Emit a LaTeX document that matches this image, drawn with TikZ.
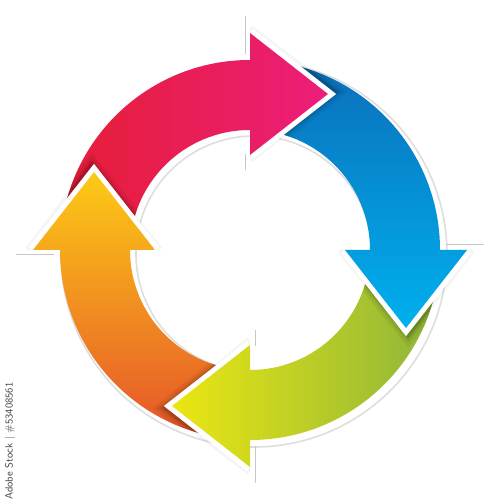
\documentclass[tikz,border=0pt]{standalone}
\usetikzlibrary{calc}
\definecolor{cRed}{HTML}{E61E35}
\definecolor{cPink}{HTML}{EC1E7A}
\definecolor{cBlueD}{HTML}{0A6FBA}
\definecolor{cBlueL}{HTML}{00B0EE}
\definecolor{cGreen}{HTML}{8CB53A}
\definecolor{cYellow}{HTML}{EBE612}
\definecolor{cOrangeT}{HTML}{FDCB16}
\definecolor{cOrangeB}{HTML}{E5522A}
\tikzset{
  paperline/.style={draw=black!13, line width=1.6},
  cutline/.style={draw=black!22, line width=1},
  shadowA/.style={draw=black, opacity=0.06, line width=24, line join=miter},
  shadowB/.style={draw=black, opacity=0.08, line width=18, line join=miter},
  shadowC/.style={draw=black, opacity=0.12, line width=13, line join=miter},
  whiteedge/.style={draw=white, line width=10, line join=miter},
  faintshadow/.style={draw=black, opacity=0.04, line width=14, line join=miter},
}
\begin{document}
\begin{tikzpicture}[x=1pt,y=1pt]
\useasboundingbox (-250,-250) rectangle (250,250);
\fill[white] (-250,-250) rectangle (250,250);

% paper ring shadow
\draw[paperline] (4,-4) circle (193);
\draw[paperline] (4,-4) circle (118);
% cut lines
\draw[cutline] (-5,196) -- (-5,234);
\draw[cutline] (-5,80) -- (-5,96);
\draw[cutline] (5,-196) -- (5,-233);
\draw[cutline] (5,-80) -- (5,-96);
\draw[cutline] (-196,-5) -- (-234,-5);
\draw[cutline] (196,5) -- (234,5);

% ---------- orange (left, pointing up) ----------
\shade[bottom color=cOrangeB, top color=cOrangeT]
  (-90:190) arc[start angle=-90, end angle=-180, radius=190]
  -- (-217,0) -- (-156,78) -- (-95,0) -- (-120,0)
  arc[start angle=180, end angle=270, radius=120] -- cycle;

% ---------- green (bottom, pointing left) ----------
\begin{scope}
  \clip (0,-250) rectangle (-250,250);
  \draw[faintshadow] (2,-219) -- (-78,-158) -- (2,-93);
  \begin{scope}[even odd rule]
    \clip (0,0) circle (190) (0,0) circle (120);
    \draw[shadowA] (2,-219) -- (-78,-158) -- (2,-93);
    \draw[shadowB] (2,-219) -- (-78,-158) -- (2,-93);
    \draw[shadowC] (2,-219) -- (-78,-158) -- (2,-93);
  \end{scope}
\end{scope}
\draw[whiteedge] (0,-217) -- (-78,-156) -- (0,-95);
\shade[left color=cYellow, right color=cGreen]
  (0:190) arc[start angle=0, end angle=-90, radius=190]
  -- (0,-217) -- (-78,-156) -- (0,-95) -- (0,-120)
  arc[start angle=-90, end angle=0, radius=120] -- cycle;

% ---------- blue (right, pointing down) ----------
\begin{scope}
  \clip (-250,0) rectangle (250,-250);
  \draw[faintshadow] (219,2) -- (158,-78) -- (93,2);
  \begin{scope}[even odd rule]
    \clip (0,0) circle (190) (0,0) circle (120);
    \draw[shadowA] (219,2) -- (158,-78) -- (93,2);
    \draw[shadowB] (219,2) -- (158,-78) -- (93,2);
    \draw[shadowC] (219,2) -- (158,-78) -- (93,2);
  \end{scope}
\end{scope}
\draw[whiteedge] (217,0) -- (156,-78) -- (95,0);
\shade[top color=cBlueD, bottom color=cBlueL]
  (90:190) arc[start angle=90, end angle=0, radius=190]
  -- (217,0) -- (156,-78) -- (95,0) -- (120,0)
  arc[start angle=0, end angle=90, radius=120] -- cycle;

% ---------- red (top, pointing right) ----------
\begin{scope}
  \clip (0,-250) rectangle (250,250);
  \draw[faintshadow] (-2,219) -- (78,158) -- (-2,93);
  \begin{scope}[even odd rule]
    \clip (0,0) circle (190) (0,0) circle (120);
    \draw[shadowA] (-2,219) -- (78,158) -- (-2,93);
    \draw[shadowB] (-2,219) -- (78,158) -- (-2,93);
    \draw[shadowC] (-2,219) -- (78,158) -- (-2,93);
  \end{scope}
\end{scope}
\draw[whiteedge] (0,217) -- (78,156) -- (0,95);
\shade[left color=cRed, right color=cPink]
  (180:190) arc[start angle=180, end angle=90, radius=190]
  -- (0,217) -- (78,156) -- (0,95) -- (0,120)
  arc[start angle=90, end angle=180, radius=120] -- cycle;

% ---------- orange head on top of red tail ----------
\begin{scope}
  \clip (-250,0) rectangle (250,250);
  \draw[faintshadow] (-219,-2) -- (-158,78) -- (-93,-2);
  \begin{scope}[even odd rule]
    \clip (0,0) circle (190) (0,0) circle (120);
    \draw[shadowA] (-219,-2) -- (-158,78) -- (-93,-2);
    \draw[shadowB] (-219,-2) -- (-158,78) -- (-93,-2);
    \draw[shadowC] (-219,-2) -- (-158,78) -- (-93,-2);
  \end{scope}
\end{scope}
\draw[whiteedge] (-217,0) -- (-156,78) -- (-95,0);
\begin{scope}
  \clip (-217,0) -- (-156,78) -- (-95,0) -- cycle;
  \shade[bottom color=cOrangeB, top color=cOrangeT]
    (-90:190) arc[start angle=-90, end angle=-180, radius=190]
    -- (-217,0) -- (-156,78) -- (-95,0) -- (-120,0)
    arc[start angle=180, end angle=270, radius=120] -- cycle;
\end{scope}

% watermark label
\node[rotate=90, font=\sffamily\fontsize{10.5}{12}\selectfont, text=black!75, inner sep=0pt]
  (wm) at (-240,-191) {Adobe Stock | \#53408561};
\end{tikzpicture}
\end{document}
